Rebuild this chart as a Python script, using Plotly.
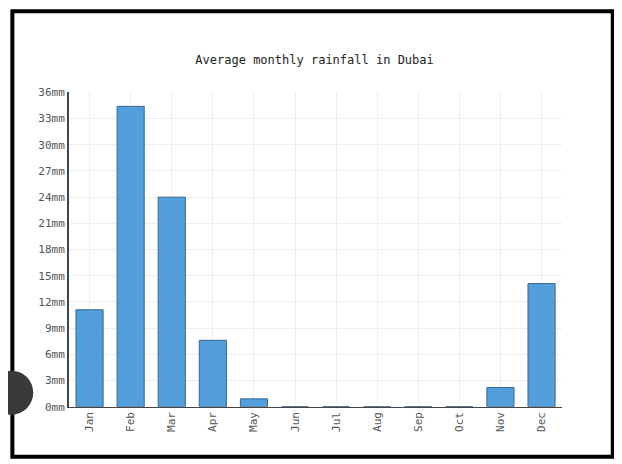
import plotly.graph_objects as go

months = ['Jan', 'Feb', 'Mar', 'Apr', 'May', 'Jun', 'Jul', 'Aug', 'Sep', 'Oct', 'Nov', 'Dec']
rainfall = [11.1, 34.4, 24.0, 7.6, 0.9, 0, 0, 0, 0, 0, 2.2, 14.1]
tick_vals = list(range(0, 37, 3))
tick_text = ['%dmm' % v for v in tick_vals]

W, H = 622, 464
mono = 'DejaVu Sans Mono'

fig = go.Figure()
fig.add_trace(go.Bar(
    x=months, y=rainfall, width=0.66,
    marker=dict(color='#529fdc', line=dict(color='#35678f', width=1)),
))

# map reference pixel positions to paper coords (corrects for page offset seen in the render)
def px(x):
    return ((x - 4.6) / 1.006) / W

def py(y):
    return 1 - ((y - 13.7) / 0.971) / H

fig.update_layout(
    width=W, height=H,
    margin=dict(l=0, r=0, t=0, b=0),
    paper_bgcolor='white', plot_bgcolor='white',
    showlegend=False,
    title=dict(text='Average monthly rainfall in Dubai', x=px(313), xanchor='center',
               y=py(64), yanchor='middle', font=dict(family=mono, size=12, color='#222')),
    xaxis=dict(domain=[px(66), px(562)], tickangle=-90, showgrid=True, gridcolor='#eeeeee',
               tickfont=dict(family=mono, size=11, color='#555'), ticks='',
               showline=True, linecolor='#444', linewidth=1),
    yaxis=dict(domain=[py(406), py(92)], range=[0, 36], tickvals=tick_vals, ticktext=tick_text,
               showgrid=True, gridcolor='#eeeeee', zeroline=False,
               tickfont=dict(family=mono, size=11, color='#555'), ticks='',
               showline=True, linecolor='#444', linewidth=2),
    shapes=[
        dict(type='rect', xref='paper', yref='paper', x0=px(9), x1=px(613), y0=py(456), y1=py(11),
             line=dict(color='black', width=4)),
        dict(type='circle', xref='paper', yref='paper', x0=px(-14), x1=px(30), y0=py(414), y1=py(370),
             fillcolor='#3a3a3a', line=dict(width=0)),
    ],
)

fig.write_html('out.html')
